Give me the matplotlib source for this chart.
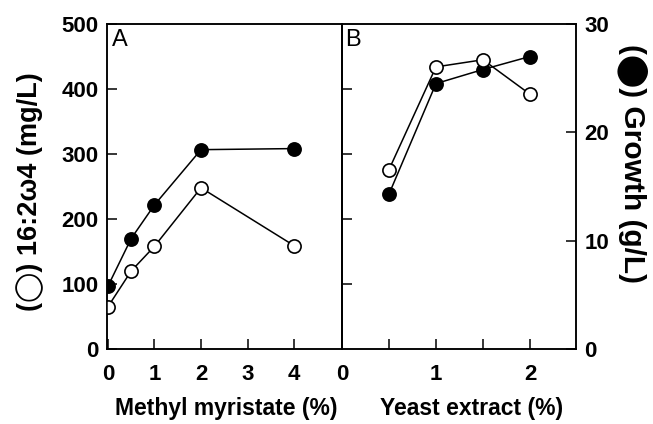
import matplotlib
matplotlib.use("Agg")
import matplotlib.pyplot as plt

plt.rcParams["font.family"] = ["Liberation Sans", "DejaVu Sans"]
plt.rcParams["font.weight"] = "bold"

# panel A: methyl myristate (%)
myr_conc = [0, 0.5, 1, 2, 4]
myr_fa = [65, 120, 158, 248, 159]            # 16:2w4, mg/L (open)
myr_growth = [5.8, 10.2, 13.3, 18.4, 18.5]   # growth, g/L (filled)

# panel B: yeast extract (%)
ye_conc = [0.5, 1, 1.5, 2]
ye_fa = [276, 434, 445, 392]
ye_growth = [14.3, 24.5, 25.8, 27.0]

fa_ticks = [0, 100, 200, 300, 400, 500]
growth_ticks = [0, 10, 20, 30]

LW = 1.1
open_kw = dict(color="black", lw=LW, marker="o", ms=9.5, mfc="white", mec="black", mew=1.2)
fill_kw = dict(color="black", lw=LW, marker="o", ms=9.5, mfc="black", mec="black", mew=1.2)

W, H = 653, 424
fig = plt.figure(figsize=(W / 100, H / 100), dpi=100)
bottom, top = 1 - 349 / H, 1 - 24 / H
axA = fig.add_axes([107 / W, bottom, (342 - 107) / W, top - bottom])
axB = fig.add_axes([342 / W, bottom, (576 - 342) / W, top - bottom])
axA2 = axA.twinx()
axB2 = axB.twinx()

for ax, ax2 in [(axA, axA2), (axB, axB2)]:
    # open circles drawn above the growth series
    ax.set_zorder(ax2.get_zorder() + 1)
    ax.patch.set_visible(False)
    ax.set_ylim(0, 500)
    ax2.set_ylim(0, 30)
    for a in (ax, ax2):
        for s in a.spines.values():
            s.set_linewidth(1.1)
        a.tick_params(direction="in", length=7, width=1.1, labelsize=16)
    ax.tick_params(axis="x", pad=11)
    ax.tick_params(axis="y", pad=6)
    ax2.tick_params(axis="y", pad=6)

# panel A
axA.plot(myr_conc, myr_fa, **open_kw)
axA2.plot(myr_conc, myr_growth, **fill_kw)
axA.set_xlim(-0.02, 5.03)
axA.set_xticks([0, 1, 2, 3, 4])
axA.set_yticks(fa_ticks)
axA2.set_yticks([])
axA.text(0.02, 0.985, "A", transform=axA.transAxes, ha="left", va="top",
         fontsize=17, fontweight="normal")

# panel B
axB.plot(ye_conc, ye_fa, **open_kw)
axB2.plot(ye_conc, ye_growth, **fill_kw)
axB.set_xlim(0, 2.49)
axB.set_xticks([0, 0.5, 1, 1.5, 2])
axB.set_xticklabels(["0", "", "1", "", "2"])
axB.set_yticks([100, 200, 300, 400])
axB.set_yticklabels([])
axB2.set_yticks(growth_ticks)
axB.text(0.015, 0.985, "B", transform=axB.transAxes, ha="left", va="top",
         fontsize=17, fontweight="normal")

fig.text(226 / W, 1 - 408 / H, "Methyl myristate (%)", ha="center", va="center", fontsize=16.5)
fig.text(472 / W, 1 - 408 / H, "Yeast extract (%)", ha="center", va="center", fontsize=16.5)
fig.text(30 / W, 1 - 192 / H, "(\u25ef) 16:2\u03c94 (mg/L)", rotation=90,
         ha="center", va="center", fontsize=19.5)
fig.text(632 / W, 1 - 163 / H, "(\u2b24) Growth (g/L)", rotation=270,
         ha="center", va="center", fontsize=21.5)

fig.savefig("out.png", dpi=100)
